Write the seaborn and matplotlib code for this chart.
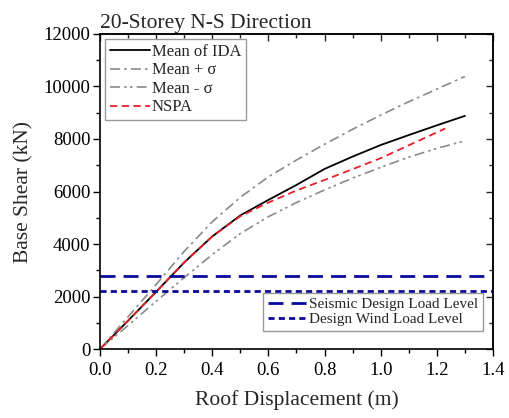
import pandas as pd
import matplotlib.pyplot as plt
import matplotlib.ticker as ticker
from matplotlib.lines import Line2D
import seaborn as sns

# Data
disp = [0.0, 0.1, 0.2, 0.3, 0.4, 0.5, 0.6, 0.7, 0.8, 0.9, 1.0, 1.1, 1.2, 1.3]
mean_ida = [0, 1080, 2180, 3300, 4290, 5090, 5680, 6250, 6860, 7330, 7770, 8150, 8520, 8880]
mean_plus = [0, 1230, 2460, 3720, 4850, 5780, 6560, 7200, 7800, 8370, 8910, 9420, 9900, 10380]
mean_minus = [0, 900, 1820, 2720, 3600, 4400, 5040, 5580, 6060, 6510, 6920, 7310, 7640, 7930]

nspa_disp = [0.0, 0.1, 0.2, 0.3, 0.4, 0.5, 0.6, 0.7, 0.8, 0.9, 1.0, 1.1, 1.23]
nspa = [0, 1080, 2180, 3300, 4290, 5060, 5580, 6040, 6440, 6850, 7270, 7760, 8400]

seismic_level = 2800
wind_level = 2200

curves = pd.DataFrame({'disp': disp, 'mean': mean_ida, 'plus': mean_plus, 'minus': mean_minus})
nspa_df = pd.DataFrame({'disp': nspa_disp, 'nspa': nspa})

sns.set_style("ticks")
plt.rcParams['font.family'] = ['Liberation Serif', 'DejaVu Serif']

grey = '#8a8a8a'
navy = '#0a0a9a'
red = '#e8202a'
ls_plus = (0, (6, 2.5, 1.5, 2.5))
ls_minus = (0, (6, 2.5, 1.5, 2, 1.5, 2.5))
ls_nspa = (0, (4, 2.5))
ls_seismic = (0, (5.4, 2.9))
ls_wind = (0, (2.2, 1.5))

fig = plt.figure(figsize=(5.09, 4.18), dpi=100)
ax = fig.add_axes([0.1965, 0.165, 0.772, 0.7537])

sns.lineplot(data=curves, x='disp', y='mean', ax=ax, color='black', linewidth=1.3)
sns.lineplot(data=curves, x='disp', y='plus', ax=ax, color=grey, linewidth=1.2, linestyle=ls_plus)
sns.lineplot(data=curves, x='disp', y='minus', ax=ax, color=grey, linewidth=1.2, linestyle=ls_minus)
sns.lineplot(data=nspa_df, x='disp', y='nspa', ax=ax, color=red, linewidth=1.3, linestyle=ls_nspa)

ax.axhline(seismic_level, color=navy, linewidth=2, linestyle=ls_seismic)
ax.axhline(wind_level, color=navy, linewidth=2, linestyle=ls_wind)

ax.set_xlim(0, 1.4)
ax.set_ylim(0, 12000)
ax.xaxis.set_major_locator(ticker.MultipleLocator(0.2))
ax.xaxis.set_minor_locator(ticker.MultipleLocator(0.1))
ax.yaxis.set_major_locator(ticker.MultipleLocator(2000))
ax.yaxis.set_minor_locator(ticker.MultipleLocator(1000))
ax.xaxis.set_major_formatter(ticker.FormatStrFormatter('%.1f'))

ax.tick_params(which='both', direction='out', labelsize=13.5, width=1, colors='black')
ax.tick_params(which='major', length=5)
ax.tick_params(which='minor', length=3)
ax.tick_params(axis='x', pad=4)
ax.tick_params(axis='y', pad=2)

# top and right ticks point inward
top = ax.secondary_xaxis('top')
right = ax.secondary_yaxis('right')
for sec, axis in ((top, top.xaxis), (right, right.yaxis)):
    axis.set_major_locator(ticker.MultipleLocator(0.2 if sec is top else 2000))
    axis.set_minor_locator(ticker.MultipleLocator(0.1 if sec is top else 1000))
    sec.tick_params(which='both', direction='in', labelsize=0, width=1)
    sec.tick_params(which='major', length=5)
    sec.tick_params(which='minor', length=3)
    axis.set_major_formatter(ticker.NullFormatter())
top.spines['top'].set_linewidth(1.2)
right.spines['right'].set_linewidth(1.2)

for s in ax.spines.values():
    s.set_linewidth(1.2)
    s.set_color('black')

ax.set_xlabel('Roof Displacement (m)', fontsize=15.5, labelpad=8)
ax.set_ylabel('Base Shear (kN)', fontsize=15.5, labelpad=7)
ax.set_title('20-Storey N-S Direction', loc='left', fontsize=15.5, pad=4)

h1 = [Line2D([], [], color='black', linewidth=1.3),
      Line2D([], [], color=grey, linewidth=1.2, linestyle=ls_plus),
      Line2D([], [], color=grey, linewidth=1.2, linestyle=ls_minus),
      Line2D([], [], color=red, linewidth=1.3, linestyle=ls_nspa)]
leg1 = ax.legend(h1, ['Mean of IDA', 'Mean + \u03c3', 'Mean - \u03c3', 'NSPA'],
                 loc='upper left', bbox_to_anchor=(0.005, 0.995), fontsize=12,
                 frameon=True, fancybox=False, edgecolor='#999999', framealpha=1,
                 handlelength=2.4, handletextpad=0.1, labelspacing=0.15,
                 borderpad=0.3, borderaxespad=0.2)
leg1.get_frame().set_linewidth(1)
ax.add_artist(leg1)

h2 = [Line2D([], [], color=navy, linewidth=2, linestyle=ls_seismic),
      Line2D([], [], color=navy, linewidth=2, linestyle=ls_wind)]
leg2 = ax.legend(h2, ['Seismic Design Load Level', 'Design Wind Load Level'],
                 loc='lower right', bbox_to_anchor=(0.982, 0.048), fontsize=11,
                 frameon=True, fancybox=False, edgecolor='#999999', framealpha=1,
                 handlelength=2.6, handletextpad=0.1, labelspacing=0.1,
                 borderpad=0.3, borderaxespad=0.2)
leg2.get_frame().set_linewidth(1)

fig.savefig('out.png', dpi=100)
